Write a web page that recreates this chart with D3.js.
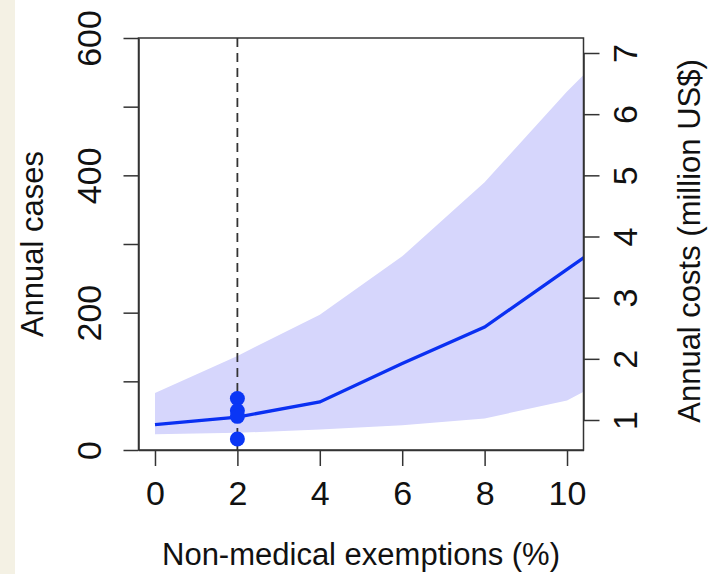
<!DOCTYPE html>
<html>
<head>
<meta charset="utf-8">
<script src="https://cdn.jsdelivr.net/npm/d3@7"></script>
<style>
  html, body { margin: 0; padding: 0; background: #fff; }
  svg { display: block; font-family: "Liberation Sans", Arial, sans-serif; }
</style>
</head>
<body>
<svg id="chart"></svg>
<script>
// exemption levels (%) and modelled annual cases
const exemptions = [0, 2, 4, 6, 8, 10, 12];
const casesMean  = [37, 48, 70, 126, 179, 263, 347];
const casesLow   = [23, 25, 30, 36, 46, 72, 136];
const casesHigh  = [83, 137, 197, 282, 390, 522, 642];

// observed cases at the current 2% level
const observedX = [2, 2, 2, 2];
const observedCases = [75, 57, 49, 16];
const currentLevel = 2;

const xTicks = [0, 2, 4, 6, 8, 10];
const caseTicks = [0, 100, 200, 300, 400, 500, 600];
const costTicks = [1, 2, 3, 4, 5, 6, 7];

(function() {

    const w = 715;
    const h = 574;

    const svg = d3.select('#chart')
        .attr('width', w)
        .attr('height', h);

    // beige strip on the left edge
    svg.append('rect')
        .attr('x', 0).attr('y', 0)
        .attr('width', 15).attr('height', h)
        .attr('fill', '#f4f1e4');

    // Scales
    const scaleX = d3.scaleLinear().domain([-0.4, 10.4]).range([138.5, 583.5]);
    const scaleY = d3.scaleLinear().domain([0, 600]).range([450, 38]);
    const scaleCost = d3.scaleLinear().domain([1, 7]).range([420, 53]);

    const [plotLeft, plotRight] = scaleX.range();
    const [plotBottom, plotTop] = scaleY.range();

    svg.append('clipPath')
        .attr('id', 'plot-clip')
        .append('rect')
        .attr('x', plotLeft).attr('y', plotTop)
        .attr('width', plotRight - plotLeft).attr('height', plotBottom - plotTop);

    const plot = svg.append('g').attr('clip-path', 'url(#plot-clip)');

    const rows = exemptions.map((x, i) => ({ x, mean: casesMean[i], lo: casesLow[i], hi: casesHigh[i] }));

    // Uncertainty band
    const band = d3.area()
        .x(d => scaleX(d.x))
        .y0(d => scaleY(d.lo))
        .y1(d => scaleY(d.hi));

    plot.append('path')
        .datum(rows)
        .attr('d', band)
        .attr('fill', '#d6d6fc');

    // Current level marker
    plot.append('line')
        .attr('x1', scaleX(currentLevel)).attr('x2', scaleX(currentLevel))
        .attr('y1', plotTop).attr('y2', plotBottom)
        .attr('stroke', '#333')
        .attr('stroke-width', 1.8)
        .attr('stroke-dasharray', '9,6');

    // Mean line
    const line = d3.line()
        .x(d => scaleX(d.x))
        .y(d => scaleY(d.mean));

    plot.append('path')
        .datum(rows)
        .attr('d', line)
        .attr('fill', 'none')
        .attr('stroke', '#0a30f2')
        .attr('stroke-width', 3.3);

    // Observed points
    plot.selectAll('circle')
        .data(observedCases)
        .enter().append('circle')
        .attr('cx', (d, i) => scaleX(observedX[i]))
        .attr('cy', d => scaleY(d))
        .attr('r', 7.5)
        .attr('fill', '#0a36f5');

    // Box
    svg.append('rect')
        .attr('x', plotLeft).attr('y', plotTop)
        .attr('width', plotRight - plotLeft).attr('height', plotBottom - plotTop)
        .attr('fill', 'none')
        .attr('stroke', '#333')
        .attr('stroke-width', 1.5);

    const styleAxis = g => {
        g.selectAll('path, line').attr('stroke', '#333').attr('stroke-width', 1.5);
        g.selectAll('text').attr('fill', '#111').style('font-size', '34px');
    };

    // Render X Axis
    const xAxis = d3.axisBottom(scaleX).tickValues(xTicks).tickSize(16).tickSizeOuter(0);
    svg.append('g')
        .attr('transform', `translate(0, ${plotBottom})`)
        .call(xAxis)
        .call(styleAxis)
        .call(g => g.selectAll('text').attr('y', 55).attr('dy', null));

    // Render left Y Axis
    const yAxis = d3.axisLeft(scaleY).tickValues(caseTicks).tickSize(15).tickSizeOuter(0)
        .tickFormat(d => d % 200 === 0 ? d : '');
    svg.append('g')
        .attr('transform', `translate(${plotLeft}, 0)`)
        .call(yAxis)
        .call(styleAxis)
        .call(g => g.selectAll('text')
            .attr('x', null).attr('dy', null)
            .attr('text-anchor', 'middle')
            .attr('transform', 'translate(-38, 0) rotate(-90)'));

    // Render right Y Axis
    const costAxis = d3.axisRight(scaleCost).tickValues(costTicks).tickSize(16).tickSizeOuter(0)
        .tickFormat(d3.format('d'));
    svg.append('g')
        .attr('transform', `translate(${plotRight}, 0)`)
        .call(costAxis)
        .call(styleAxis)
        .call(g => g.selectAll('text')
            .attr('x', null).attr('dy', null)
            .attr('text-anchor', 'middle')
            .attr('transform', 'translate(53, 0) rotate(-90)'));

    // Axis titles
    svg.append('text')
        .attr('x', (plotLeft + plotRight) / 2).attr('y', 565)
        .attr('text-anchor', 'middle')
        .style('font-size', '31px')
        .attr('fill', '#111')
        .text('Non-medical exemptions (%)');

    svg.append('text')
        .attr('transform', `translate(43, ${(plotTop + plotBottom) / 2}) rotate(-90)`)
        .attr('text-anchor', 'middle')
        .style('font-size', '31px')
        .attr('fill', '#111')
        .text('Annual cases');

    svg.append('text')
        .attr('transform', `translate(700, 241) rotate(-90)`)
        .attr('text-anchor', 'middle')
        .style('font-size', '31px')
        .attr('fill', '#111')
        .text('Annual costs (million US$)');

})();
</script>
</body>
</html>
